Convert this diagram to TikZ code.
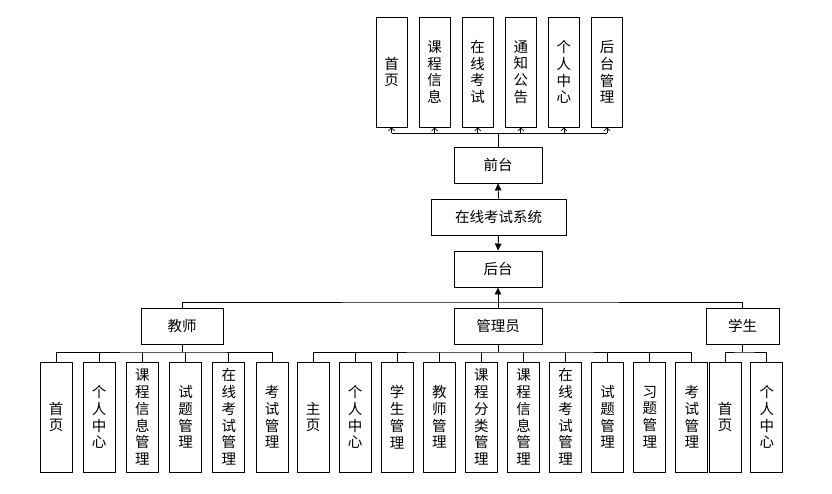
\documentclass[tikz,border=0pt]{standalone}
\usepackage{fontspec}
\newfontfamily\cjk{Noto Sans CJK SC}
\usetikzlibrary{positioning, arrows.meta}

\begin{document}
\begin{tikzpicture}[x=1pt, y=-1pt,
  every node/.style={font=\cjk\fontsize{14.5pt}{16.8pt}\selectfont, text=black},
  hbox/.style={rectangle, draw=black, line width=0.9pt, minimum width=88pt,
              minimum height=36pt, inner sep=1pt},
  vbox/.style={rectangle, draw=black, line width=0.9pt, minimum width=32pt,
              minimum height=110pt, align=center, inner sep=1pt},
  link/.style={black, line width=0.9pt},
  tap/.style={-{Straight Barb[length=3pt, width=6pt]}, black, line width=0.7pt},
  arrv/.style={-{Triangle[length=7pt, width=6.5pt]}, black, line width=0.9pt},
]
  \useasboundingbox (0,0) rectangle (832,493);

  % spine
  \node[hbox] (front) at (498,165) {前台};
  \node[hbox, minimum width=135pt] (sys) at (498.5,217) {在线考试系统};
  \node[hbox] (back) at (498,269) {后台};
  \draw[arrv] (sys.north) -- (front.south);
  \draw[arrv] (sys.south) -- (back.north);

  % front pages
  \node[vbox, minimum width=31pt] (f1) at (391.5,72) {首\\页};
  \node[vbox, minimum width=31pt, right=11.2pt of f1] (f2) {课\\程\\信\\息};
  \node[vbox, minimum width=31pt, right=11.2pt of f2] (f3) {在\\线\\考\\试};
  \node[vbox, minimum width=31pt, right=11.2pt of f3] (f4) {通\\知\\公\\告};
  \node[vbox, minimum width=31pt, right=11.2pt of f4] (f5) {个\\人\\中\\心};
  \node[vbox, minimum width=31pt, right=11.2pt of f5] (f6) {后\\台\\管\\理};

  \coordinate (fbus) at (498,133);
  \draw[link] (front.north) -- (fbus);
  \draw[link] (f1 |- fbus) -- (f6 |- fbus);
  \draw[tap] (f1 |- fbus) -- (f1.south);
  \draw[tap] (f2 |- fbus) -- (f2.south);
  \draw[tap] (f3 |- fbus) -- (f3.south);
  \draw[tap] (f4 |- fbus) -- (f4.south);
  \draw[tap] (f5 |- fbus) -- (f5.south);
  \draw[tap] (f6 |- fbus) -- (f6.south);

  % roles
  \node[hbox, minimum width=82pt] (teacher) at (182,326) {教师};
  \node[hbox] (admin) at (498,326) {管理员};
  \node[hbox, minimum width=73pt] (student) at (742.5,326) {学生};

  \coordinate (rbus) at (498,302);
  \draw[arrv] (admin.north) -- (back.south);
  \draw[link] (teacher.north) |- (rbus) -| (student.north);

  % teacher
  \node[vbox] (t1) at (56,417) {首\\页};
  \node[vbox, right=10.3pt of t1] (t2) {个\\人\\中\\心};
  \node[vbox, right=10.3pt of t2] (t3) {课\\程\\信\\息\\管\\理};
  \node[vbox, right=10.3pt of t3] (t4) {试\\题\\管\\理};
  \node[vbox, right=10.3pt of t4] (t5) {在\\线\\考\\试\\管\\理};
  \node[vbox, right=10.3pt of t5] (t6) {考\\试\\管\\理};

  \coordinate (tbus) at (182,352);
  \draw[link] (teacher.south) -- (tbus);
  \draw[link] (t1.north) |- (tbus) -| (t6.north);
  \draw[link] (t2.north) -- (t2 |- tbus) (t3.north) -- (t3 |- tbus)
              (t4.north) -- (t4 |- tbus) (t5.north) -- (t5 |- tbus);

  % admin
  \node[vbox] (a1) at (313,417) {主\\页};
  \node[vbox, right=9.2pt of a1] (a2)  {个\\人\\中\\心};
  \node[vbox, right=9.2pt of a2] (a3)  {学\\生\\管\\理};
  \node[vbox, right=9.2pt of a3] (a4)  {教\\师\\管\\理};
  \node[vbox, right=9.2pt of a4] (a5)  {课\\程\\分\\类\\管\\理};
  \node[vbox, right=9.2pt of a5] (a6)  {课\\程\\信\\息\\管\\理};
  \node[vbox, right=9.2pt of a6] (a7)  {在\\线\\考\\试\\管\\理};
  \node[vbox, right=9.2pt of a7] (a8)  {试\\题\\管\\理};
  \node[vbox, right=9.2pt of a8] (a9)  {习\\题\\管\\理};
  \node[vbox, right=9.2pt of a9] (a10) {考\\试\\管\\理};

  \coordinate (abus) at (498,352);
  \draw[link] (admin.south) -- (abus);
  \draw[link] (a1.north) |- (abus) -| (a10.north);
  \draw[link] (a2.north) -- (a2 |- abus) (a3.north) -- (a3 |- abus)
              (a4.north) -- (a4 |- abus) (a5.north) -- (a5 |- abus)
              (a6.north) -- (a6 |- abus) (a7.north) -- (a7 |- abus)
              (a8.north) -- (a8 |- abus) (a9.north) -- (a9 |- abus);

  % student
  \node[vbox] (s1) at (725,417) {首\\页};
  \node[vbox, right=9pt of s1] (s2) {个\\人\\中\\心};

  \coordinate (sbus) at (742.5,352);
  \draw[link] (student.south) -- (sbus);
  \draw[link] (s1.north) |- (sbus) -| (s2.north);
\end{tikzpicture}
\end{document}
